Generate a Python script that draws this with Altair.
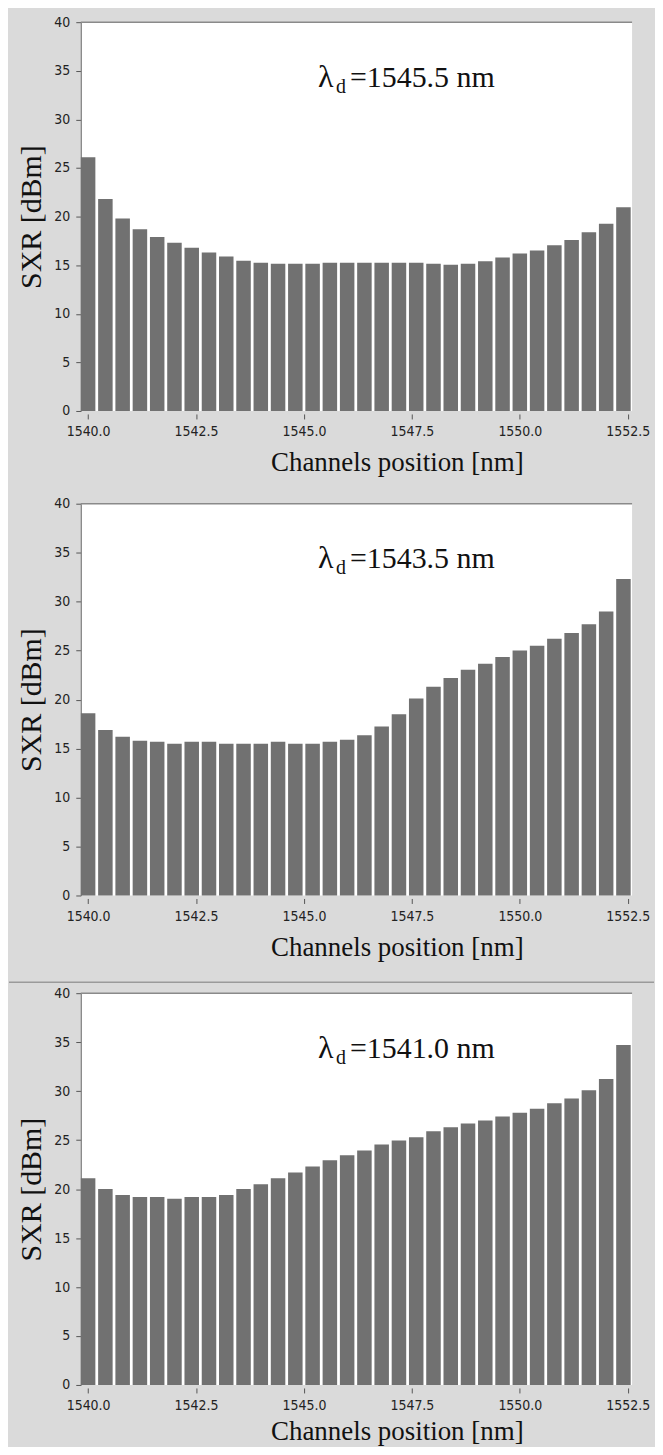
import altair as alt
import pandas as pd

# ---------------- data ----------------
channels = [1540.0, 1540.4, 1540.8, 1541.2, 1541.6, 1542.0, 1542.4, 1542.8,
            1543.2, 1543.6, 1544.0, 1544.4, 1544.8, 1545.2, 1545.6, 1546.0,
            1546.4, 1546.8, 1547.2, 1547.6, 1548.0, 1548.4, 1548.8, 1549.2,
            1549.6, 1550.0, 1550.4, 1550.8, 1551.2, 1551.6, 1552.0, 1552.4]

sxr_1545_5 = [26.1, 21.8, 19.8, 18.7, 17.9, 17.3, 16.8, 16.3,
              15.9, 15.45, 15.25, 15.15, 15.15, 15.15, 15.25, 15.25,
              15.25, 15.25, 15.25, 15.25, 15.15, 15.05, 15.15, 15.4,
              15.8, 16.2, 16.5, 17.05, 17.6, 18.4, 19.25, 20.95]

sxr_1543_5 = [18.6, 16.9, 16.2, 15.8, 15.7, 15.5, 15.7, 15.7,
              15.5, 15.5, 15.5, 15.7, 15.5, 15.5, 15.7, 15.9,
              16.35, 17.25, 18.5, 20.1, 21.3, 22.2, 23.05, 23.65,
              24.35, 25.0, 25.5, 26.2, 26.8, 27.7, 29.0, 32.3]

sxr_1541_0 = [21.1, 20.0, 19.4, 19.2, 19.2, 19.0, 19.2, 19.2,
              19.4, 20.0, 20.5, 21.1, 21.7, 22.3, 22.95, 23.45,
              23.95, 24.55, 24.95, 25.3, 25.9, 26.3, 26.7, 27.0,
              27.4, 27.8, 28.2, 28.75, 29.25, 30.1, 31.25, 34.7]

panel_labels = ["=1545.5 nm", "=1543.5 nm", "=1541.0 nm"]
x_ticks = [1540.0, 1542.5, 1545.0, 1547.5, 1550.0, 1552.5]
y_ticks = [0, 5, 10, 15, 20, 25, 30, 35, 40]
x_domain = [1539.83, 1552.6]
y_domain = [0, 40]
bar_half_width = 0.168

SERIF = "Liberation Serif, Times New Roman, DejaVu Serif, serif"
SANS = "DejaVu Sans Condensed, Liberation Sans Narrow, sans-serif"
BAR_COLOR = "#717171"
W = 553


def panel(values, label, height, title_pad, sep_top=False):
    df = pd.DataFrame({"ch": channels, "sxr": values})
    bars = alt.Chart(df).transform_calculate(
        x0=f"datum.ch - {bar_half_width}",
        x1=f"datum.ch + {bar_half_width}",
    ).mark_bar(color=BAR_COLOR).encode(
        x=alt.X("x0:Q",
                scale=alt.Scale(domain=x_domain, nice=False, zero=False),
                axis=alt.Axis(values=x_ticks, format=".1f",
                              title="Channels position [nm]",
                              titleX=317, titleAlign="center",
                              titlePadding=title_pad)),
        x2="x1:Q",
        y=alt.Y("sxr:Q",
                scale=alt.Scale(domain=y_domain, nice=False),
                axis=alt.Axis(values=y_ticks, format="d", title="SXR [dBm]")),
        y2=alt.datum(0),
    )
    one = pd.DataFrame({"t": [label]})
    top_rule = alt.Chart(one).mark_rule(color="#8a8a8a", strokeWidth=1.5).encode(
        x=alt.value(0), x2=alt.value(W), y=alt.value(0))
    lam = alt.Chart(one).mark_text(
        text="λ", font=SERIF, fontSize=32, align="left", baseline="alphabetic",
        color="#111").encode(x=alt.value(238), y=alt.value(65))
    sub = alt.Chart(one).mark_text(
        text="d", font=SERIF, fontSize=20, align="left", baseline="alphabetic",
        color="#111").encode(x=alt.value(256), y=alt.value(71))
    rest = alt.Chart(one).mark_text(
        font=SERIF, fontSize=30, align="left", baseline="alphabetic",
        color="#111").encode(text="t:N", x=alt.value(270), y=alt.value(65))
    layers = [bars, top_rule, lam, sub, rest]
    if sep_top:
        layers.append(alt.Chart(one).mark_rule(color="#9a9a9a", strokeWidth=1.5).encode(
            x=alt.value(-72), x2=alt.value(W + 22), y=alt.value(-11)))
    return alt.layer(*layers).properties(width=W, height=height)


p1 = panel(sxr_1545_5, panel_labels[0], 390, 11)
p2 = panel(sxr_1543_5, panel_labels[1], 393, 11)
p3 = panel(sxr_1541_0, panel_labels[2], 393, 6, sep_top=True)

chart = alt.vconcat(p1, p2, p3, spacing=21).configure(
    background="#dadada",
    padding={"left": 0, "top": 5, "right": 0, "bottom": 0},
).configure_view(
    fill="white", stroke=None
).configure_axisX(
    labelFont=SANS, labelFontSize=14, labelColor="#222",
    tickColor="#555", tickSize=5, offset=3, domain=False, grid=False,
    labelPadding=6,
    titleFont=SERIF, titleFontSize=27, titleFontWeight="normal",
    titleColor="#111",
).configure_axisY(
    labelFont=SANS, labelFontSize=14, labelColor="#222",
    tickColor="#555", tickSize=5, domain=True, domainColor="#7a7a7a",
    domainWidth=1.2, grid=False, labelPadding=6,
    titleFont=SERIF, titleFontSize=30, titleFontWeight="normal",
    titleColor="#111", titlePadding=7,
)

chart.save("out.html", embed_options={"renderer": "svg", "actions": False})
